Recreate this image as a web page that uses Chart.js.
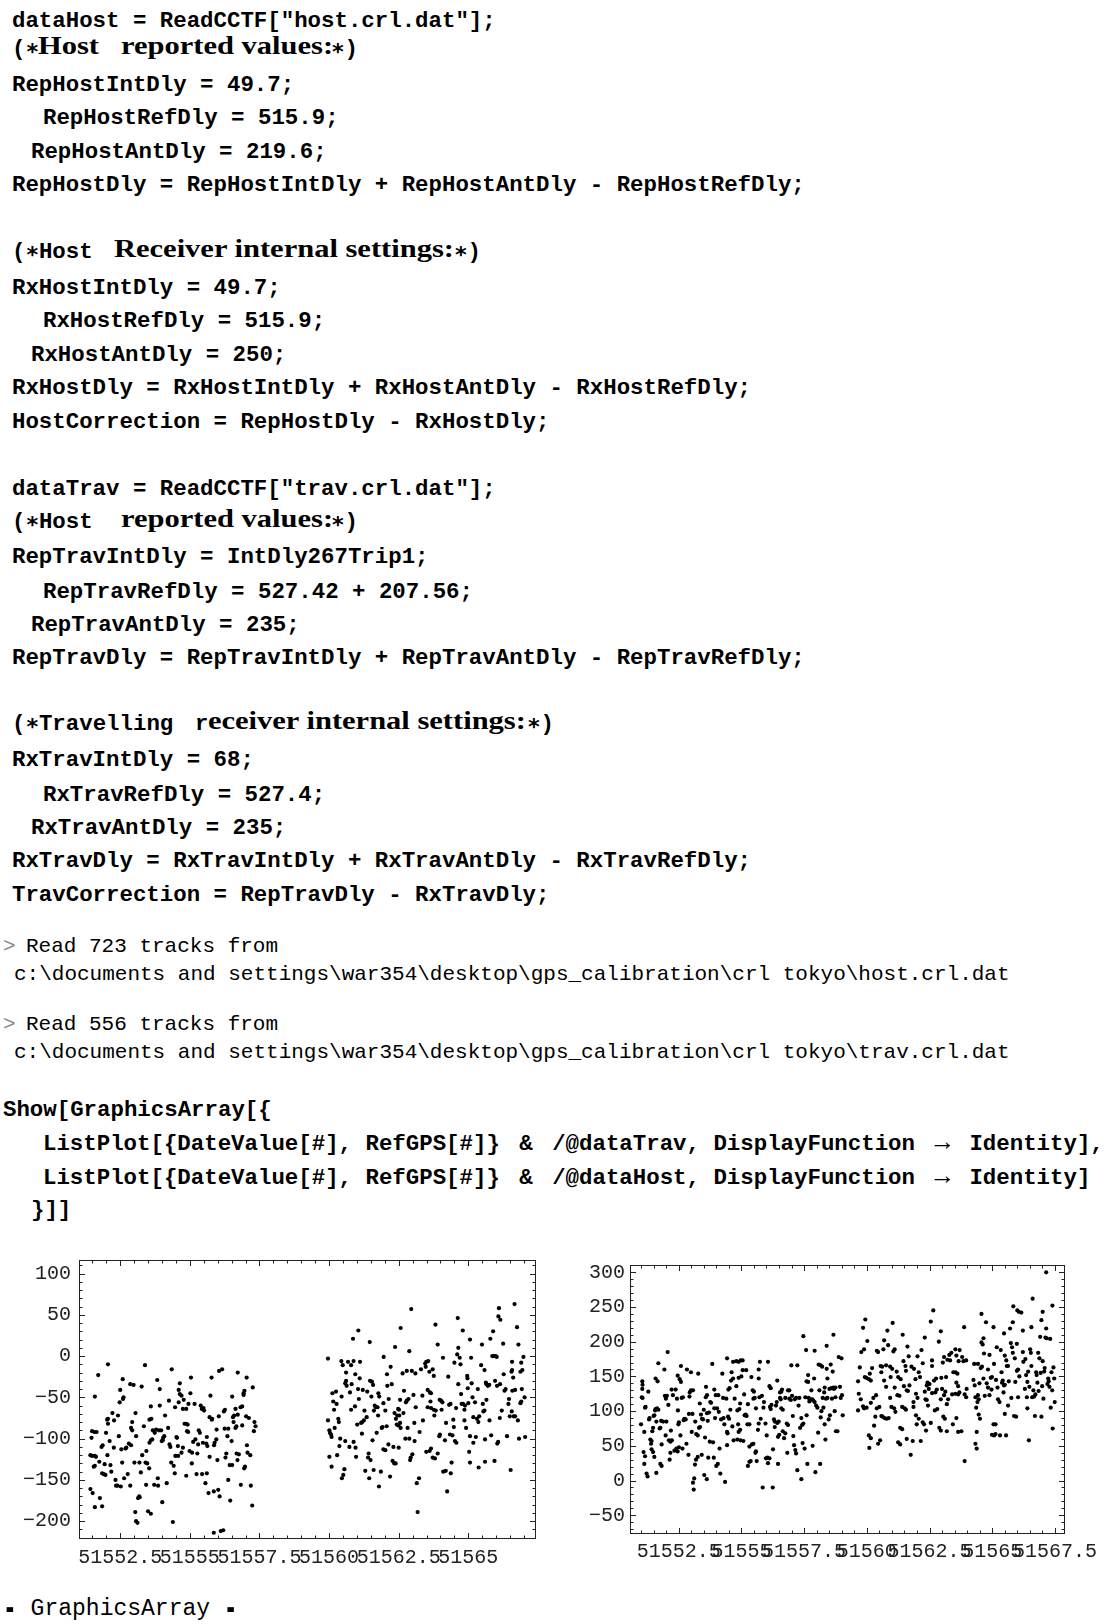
<!DOCTYPE html>
<html><head><meta charset="utf-8">
<script src="https://cdn.jsdelivr.net/npm/chart.js@4.4.1/dist/chart.umd.min.js"></script>
<style>
html,body{margin:0;padding:0;background:#fff;}
body{width:1117px;height:1624px;position:relative;overflow:hidden;}
.l{position:absolute;white-space:pre;height:30px;line-height:30px;color:#000;}
.cb{font-family:"Liberation Mono",monospace;font-weight:bold;font-size:22.4px;}
.co{font-family:"Liberation Mono",monospace;font-size:21px;}
.sf{font-family:"Liberation Serif",serif;font-weight:bold;font-size:25px;transform:scaleX(1.22);transform-origin:0 50%;}
.gr{color:#888;}
.amp{word-spacing:6px;}
.arr{word-spacing:6px;}
.arr b{font-size:26px;}
.dash{display:inline-block;font-weight:bold;transform:scaleY(1.8);}
canvas{position:absolute;}
</style></head>
<body>
<div class="l cb" style="left:12px;top:6px">dataHost = ReadCCTF["host.crl.dat"];</div>
<div class="l cb" style="left:12px;top:34px">(∗</div>
<div class="l sf" style="left:38px;top:31px">Host</div>
<div class="l sf" style="left:121px;top:31px">reported values:</div>
<div class="l cb" style="left:331px;top:34px">∗)</div>
<div class="l cb" style="left:12px;top:70px">RepHostIntDly = 49.7;</div>
<div class="l cb" style="left:43px;top:103px">RepHostRefDly = 515.9;</div>
<div class="l cb" style="left:31px;top:137px">RepHostAntDly = 219.6;</div>
<div class="l cb" style="left:12px;top:170px">RepHostDly = RepHostIntDly + RepHostAntDly - RepHostRefDly;</div>

<div class="l cb" style="left:12px;top:237px">(∗Host</div>
<div class="l sf" style="left:114px;top:234px">Receiver internal settings:</div>
<div class="l cb" style="left:454px;top:237px">∗)</div>
<div class="l cb" style="left:12px;top:273px">RxHostIntDly = 49.7;</div>
<div class="l cb" style="left:43px;top:306px">RxHostRefDly = 515.9;</div>
<div class="l cb" style="left:31px;top:340px">RxHostAntDly = 250;</div>
<div class="l cb" style="left:12px;top:373px">RxHostDly = RxHostIntDly + RxHostAntDly - RxHostRefDly;</div>
<div class="l cb" style="left:12px;top:407px">HostCorrection = RepHostDly - RxHostDly;</div>

<div class="l cb" style="left:12px;top:474px">dataTrav = ReadCCTF["trav.crl.dat"];</div>
<div class="l cb" style="left:12px;top:507px">(∗Host</div>
<div class="l sf" style="left:121px;top:504px">reported values:</div>
<div class="l cb" style="left:331px;top:507px">∗)</div>
<div class="l cb" style="left:12px;top:542px">RepTravIntDly = IntDly267Trip1;</div>
<div class="l cb" style="left:43px;top:577px">RepTravRefDly = 527.42 + 207.56;</div>
<div class="l cb" style="left:31px;top:610px">RepTravAntDly = 235;</div>
<div class="l cb" style="left:12px;top:643px">RepTravDly = RepTravIntDly + RepTravAntDly - RepTravRefDly;</div>

<div class="l cb" style="left:12px;top:709px">(∗Travelling</div>
<div class="l cb" style="left:195px;top:709px">r</div>
<div class="l sf" style="left:208px;top:706px">eceiver internal settings:</div>
<div class="l cb" style="left:527px;top:709px">∗)</div>
<div class="l cb" style="left:12px;top:745px">RxTravIntDly = 68;</div>
<div class="l cb" style="left:43px;top:780px">RxTravRefDly = 527.4;</div>
<div class="l cb" style="left:31px;top:813px">RxTravAntDly = 235;</div>
<div class="l cb" style="left:12px;top:846px">RxTravDly = RxTravIntDly + RxTravAntDly - RxTravRefDly;</div>
<div class="l cb" style="left:12px;top:880px">TravCorrection = RepTravDly - RxTravDly;</div>

<div class="l co gr" style="left:3px;top:932px">&gt;</div>
<div class="l co" style="left:26px;top:932px">Read 723 tracks from</div>
<div class="l co" style="left:14px;top:960px">c:\documents and settings\war354\desktop\gps_calibration\crl tokyo\host.crl.dat</div>
<div class="l co gr" style="left:3px;top:1010px">&gt;</div>
<div class="l co" style="left:26px;top:1010px">Read 556 tracks from</div>
<div class="l co" style="left:14px;top:1038px">c:\documents and settings\war354\desktop\gps_calibration\crl tokyo\trav.crl.dat</div>

<div class="l cb" style="left:3px;top:1095px">Show[GraphicsArray[{</div>
<div class="l cb" style="left:43px;top:1128px">ListPlot[{DateValue[#], RefGPS[#]}<span class="amp"> &amp; </span>/@dataTrav, DisplayFunction<span class="arr"> <b>→</b> </span>Identity],</div>
<div class="l cb" style="left:43px;top:1162px">ListPlot[{DateValue[#], RefGPS[#]}<span class="amp"> &amp; </span>/@dataHost, DisplayFunction<span class="arr"> <b>→</b> </span>Identity]</div>
<div class="l cb" style="left:31px;top:1195px">}]]</div>

<canvas id="trav" width="560" height="345" style="left:0px;top:1240px;width:560px;height:345px"></canvas>
<canvas id="host" width="557" height="345" style="left:560px;top:1240px;width:557px;height:345px"></canvas>

<div class="l" style="left:3px;top:1594px;font-family:'Liberation Mono',monospace;font-size:23px;"><span class="dash">-</span> GraphicsArray <span class="dash">-</span></div>

<script>
// ---- data: {DateValue, RefGPS} for dataTrav (left plot) ----
const travPoints = [
[51551.43,-161],[51551.51,-166],[51551.59,-183],[51551.77,-172],[51551.85,-182],
[51551.43,-120],[51551.49,-121],[51551.59,-121],[51551.63,-122],[51551.55,-134],[51551.59,-133],
[51551.47,-99],[51551.49,-91],[51551.57,-92],[51551.65,-92],[51551.59,-49],[51551.71,-23],[51552.06,-10],
[51551.75,-128],[51551.83,-110],[51551.87,-108],[51551.85,-142],[51551.91,-143],[51551.94,-131],[51551.97,-144],[51552.04,-120],[51551.99,-93],[51552.03,-77],[51552.06,-82],[51552.06,-76],
[51552.12,-103],[51552.15,-132],[51552.18,-140],[51552.22,-69],[51552.28,-78],[51552.27,-111],[51552.33,-150],[51552.35,-157],[51552.40,-157],[51552.42,-72],
[51552.45,-97],[51552.48,-56],[51552.50,-41],[51552.54,-113],[51552.52,-158],[51552.57,-129],[51552.59,-28],[51552.60,-52],[51552.62,-50],[51552.64,-148],
[51552.69,-112],[51552.72,-111],[51552.77,-143],[51552.81,-106],[51552.86,-34],[51552.86,-157],[51552.89,-108],[51552.89,-87],[51552.93,-90],[51552.93,-80],
[51552.98,-35],[51553.01,-129],[51553.04,-189],[51553.05,-69],[51553.07,-97],[51553.07,-200],[51553.12,-202],[51553.14,-172],[51553.18,-170],[51553.19,-129],
[51553.20,-171],[51553.24,-141],[51553.27,-37],[51553.29,-120],[51553.35,-85],[51553.39,-11],[51553.41,-129],[51553.43,-156],[51553.44,-115],[51553.47,-130],
[51553.50,-188],[51553.54,-136],[51553.55,-77],[51553.60,-61],[51553.60,-191],[51553.62,-76],[51553.55,-105],[51553.60,-102],[51553.65,-101],[51553.67,-90],
[51553.72,-156],[51553.74,-93],[51553.79,-89],[51553.83,-29],[51553.85,-148],[51553.86,-157],[51553.89,-90],[51553.92,-40],[51553.92,-60],[51553.97,-90],
[51554.01,-177],[51553.99,-103],[51554.03,-102],[51554.04,-99],[51554.08,-97],[51554.11,-72],[51554.17,-154],[51554.22,-87],[51554.25,-54],[51554.27,-107],
[51554.30,-110],[51554.33,-129],[51554.35,-16],[51554.39,-201],[51554.42,-133],[51554.46,-142],[51554.47,-62],[51554.48,-121],[51554.52,-98],[51554.54,-99],
[51554.57,-109],[51554.58,-121],[51554.60,-56],[51554.60,-41],[51554.64,-33],[51554.64,-46],[51554.70,-48],[51554.70,-117],[51554.75,-111],[51554.75,-64],
[51554.78,-53],[51554.81,-82],[51554.87,-82],[51554.87,-64],[51554.87,-145],[51554.90,-91],[51554.92,-83],[51554.94,-92],[51554.95,-58],[51554.99,-115],
[51555.02,-45],[51555.04,-26],[51555.07,-130],[51555.08,-117],[51555.12,-104],[51555.17,-58],[51555.20,-101],[51555.24,-143],[51555.27,-118],[51555.30,-107],
[51555.32,-90],[51555.36,-93],[51555.39,-60],[51555.43,-64],[51555.44,-143],[51555.47,-105],[51555.49,-63],[51555.51,-66],[51555.56,-154],[51555.59,-106],
[51555.61,-98],[51555.61,-142],[51555.63,-109],[51555.67,-166],[51555.71,-122],[51555.71,-74],[51555.74,-48],[51555.78,-26],[51555.79,-77],[51555.80,-76],
[51555.86,-164],[51555.86,-214],[51555.87,-108],[51555.89,-105],[51555.95,-101],[51555.96,-89],[51555.99,-126],[51556.02,-162],[51556.04,-73],[51556.05,-18],
[51556.07,-170],[51556.11,-212],[51556.16,-16],[51556.20,-211],[51556.22,-67],[51556.25,-88],[51556.26,-65],[51556.28,-123],[51556.31,-118],[51556.35,-97],
[51556.38,-88],[51556.38,-150],[51556.43,-132],[51556.45,-175],[51556.50,-103],[51556.52,-132],[51556.52,-49],[51556.55,-74],[51556.57,-80],[51556.59,-72],
[51556.64,-64],[51556.64,-87],[51556.67,-85],[51556.68,-118],[51556.71,-126],[51556.72,-71],[51556.72,-20],[51556.76,-119],[51556.82,-62],[51556.83,-156],
[51556.88,-61],[51556.88,-84],[51556.93,-45],[51556.93,-47],[51556.95,-136],[51556.96,-42],[51556.98,-134],[51557.02,-73],[51557.04,-26],[51557.05,-108],
[51557.07,-117],[51557.12,-75],[51557.17,-120],[51557.19,-157],[51557.24,-181],[51557.26,-38],[51557.30,-91],[51557.32,-80],[51557.36,-85],
[51559.96,-3],[51559.96,-78],[51560.01,-90],[51560.03,-93],[51560.07,-95],[51560.09,-98],[51560.01,-122],[51560.09,-134],[51560.12,-45],[51560.15,-55],
[51560.18,-65],[51560.20,-87],[51560.25,-43],[51560.27,-58],[51560.29,-120],[51560.33,-76],[51560.35,-80],[51560.37,-109],[51560.40,-100],[51560.44,-6],
[51560.45,-49],[51560.46,-148],[51560.51,-144],[51560.55,-137],[51560.49,-11],[51560.58,-103],[51560.61,-20],[51560.58,-33],[51560.61,-30],[51560.63,-36],
[51560.68,-7],[51560.73,-110],[51560.75,-44],[51560.79,-11],[51560.79,-65],[51560.81,-34],[51560.86,21],[51560.88,-6],[51560.88,-104],[51560.93,-61],
[51560.94,-22],[51560.95,-111],[51560.97,-122],[51561.01,-83],[51561.05,31],[51561.04,-40],[51561.07,-52],[51561.11,-7],[51561.10,-27],[51561.15,-81],
[51561.19,-80],[51561.25,-78],[51561.18,-94],[51561.21,-41],[51561.27,-66],[51561.30,-139],[51561.35,-74],[51561.37,-43],[51561.40,-123],[51561.44,-148],
[51561.42,-118],[51561.49,-126],[51561.46,17],[51561.47,-30],[51561.52,-49],[51561.54,-31],[51561.58,-35],[51561.56,-102],[51561.60,-138],[51561.61,-66],
[51561.64,-60],[51561.68,-62],[51561.74,-62],[51561.71,-93],[51561.76,-72],[51561.77,-45],[51561.80,-49],[51561.79,-158],[51561.86,-140],[51561.89,-87],
[51561.92,-86],[51561.95,-113],[51562.02,-114],[51561.96,-1],[51561.95,-57],[51562.02,-66],[51562.07,-85],[51562.08,-22],[51562.09,-36],[51562.13,-107],
[51562.14,-52],[51562.19,-146],[51562.21,-13],[51562.25,-34],[51562.28,-127],[51562.34,-130],[51562.39,-130],[51562.31,-110],[51562.35,-69],[51562.37,11],
[51562.40,-76],[51562.45,-72],[51562.52,-72],[51562.48,-64],[51562.51,-65],[51562.43,-83],[51562.49,-84],[51562.55,-81],[51562.50,-111],[51562.55,-53],
[51562.57,34],[51562.57,-87],[51562.64,-21],[51562.67,-69],[51562.69,-42],[51562.76,-56],[51562.79,-54],[51562.85,-52],[51562.74,-100],[51562.79,-18],
[51562.82,-87],[51562.88,-100],[51562.88,6],[51562.91,-126],[51562.93,-123],[51562.99,-119],[51562.95,57],[51562.97,-18],[51563.03,-47],[51563.06,-81],
[51563.10,-21],[51563.07,-103],[51563.11,-62],
[51563.15,-154],[51563.18,-189],[51563.23,-148],[51563.30,-16],[51563.35,-48],[51563.37,-78],[51563.25,-92],[51563.45,-9],[51563.47,-13],[51563.49,-7],
[51563.54,-41],[51563.56,-6],[51563.60,-19],[51563.62,-44],[51563.66,-45],[51563.64,-55],[51563.54,-62],[51563.66,-63],[51563.72,-16],[51563.76,-24],
[51563.76,-65],[51563.78,-72],[51563.83,-66],[51563.82,38],[51563.72,-123],[51563.80,-124],[51563.61,-115],[51563.66,-112],[51563.49,-116],[51563.90,14],
[51563.90,-118],[51563.96,-97],[51563.98,-95],[51563.97,-53],[51564.02,-54],[51564.07,-56],[51564.04,-65],[51564.09,-2],[51564.10,-140],[51564.19,-139],
[51564.16,-102],[51564.20,-81],[51564.24,-164],[51564.28,-25],[51564.31,-59],[51564.36,-58],[51564.34,-95],[51564.37,-142],[51564.40,-129],[51564.43,-96],
[51564.46,-77],[51564.48,-86],[51564.50,-8],[51564.52,-103],[51564.57,-105],[51564.56,-63],[51564.60,2],[51564.62,46],[51564.64,-34],[51564.64,10],
[51564.69,-2],[51564.72,-10],[51564.74,-46],[51564.76,-58],[51564.81,-58],[51564.80,31],[51564.86,-65],[51564.86,-78],[51564.88,-60],[51564.92,-87],
[51564.96,-24],[51564.97,-27],[51564.98,-39],[51565.00,-57],[51565.03,-116],[51565.06,-129],[51565.06,-97],[51565.06,20],[51565.10,-2],[51565.12,-33],
[51565.15,-50],[51565.18,-105],[51565.18,-74],[51565.24,-56],[51565.27,-98],[51565.31,-76],[51565.36,-80],[51565.39,-73],[51565.34,-40],[51565.37,-135],
[51565.46,-11],[51565.49,14],[51565.52,-58],[51565.54,-67],[51565.58,-66],[51565.58,-17],[51565.60,-101],[51565.63,-32],[51565.65,-34],[51565.70,-36],
[51565.65,-53],[51565.60,-128],[51565.75,-35],[51565.76,-78],[51565.79,21],[51565.82,-96],[51565.86,0],[51565.89,30],[51565.92,0],[51565.98,0],
[51566.02,-1],[51565.94,-127],[51565.96,-30],[51566.04,-106],[51566.07,-104],[51566.03,-36],[51566.08,48],[51566.10,58],[51566.13,-75],[51566.14,-34],
[51566.15,44],[51566.20,-66],[51566.25,15],[51566.27,-22],[51566.30,-42],[51566.34,-40],[51566.39,-97],[51566.44,-58],[51566.46,-52],[51566.49,-73],
[51566.52,-138],[51566.55,-19],[51566.57,-17],[51566.57,-7],[51566.56,-67],[51566.58,-42],[51566.61,-26],[51566.63,-73],[51566.68,-73],[51566.66,63],
[51566.68,-41],[51566.75,35],[51566.78,-78],[51566.80,14],[51566.82,-100],[51566.87,-57],[51566.90,-55],[51566.87,-19],[51566.90,-8],[51566.92,-40],
[51566.94,-17],[51566.98,-1],[51567.02,-50],[51567.04,-98]
];

// ---- data: {DateValue, RefGPS} for dataHost (right plot) ----
const hostPoints = [
[51551.00,81],[51551.03,120],[51551.06,119],[51551.05,143],[51551.06,138],[51551.05,132],[51551.13,70],[51551.16,105],[51551.18,106],[51551.10,41],
[51551.16,35],[51551.13,24],[51551.22,10],[51551.26,6],[51551.29,128],[51551.32,88],[51551.34,90],[51551.37,59],[51551.40,53],[51551.42,57],
[51551.42,45],[51551.48,41],[51551.53,34],[51551.45,71],[51551.50,93],[51551.56,101],[51551.58,103],[51551.61,85],[51551.48,76],[51551.53,94],
[51551.61,11],[51551.58,147],[51551.66,143],[51551.64,104],[51551.69,102],[51551.69,169],[51551.74,75],[51551.77,76],[51551.77,24],[51551.82,21],
[51551.80,86],[51551.82,52],[51551.88,85],[51551.93,160],[51551.95,122],[51551.99,118],[51552.01,85],[51551.98,65],[51552.03,122],[51552.06,185],
[51552.09,109],[51552.11,58],[51552.17,56],[51552.23,58],[51552.14,30],[51552.17,40],[51552.19,72],[51552.22,131],[51552.27,123],[51552.33,43],
[51552.38,131],[51552.41,46],[51552.46,42],[51552.51,48],[51552.43,118],[51552.46,151],[51552.47,101],[51552.49,81],[51552.51,84],[51552.54,146],
[51552.59,142],[51552.57,65],[51552.59,165],[51552.62,119],[51552.65,46],[51552.67,120],[51552.70,87],[51552.73,89],[51552.78,88],[51552.81,53],
[51552.83,160],[51552.89,37],[51552.91,96],[51552.93,121],[51552.94,127],[51552.99,130],[51553.07,130],[51552.99,156],[51553.02,70],[51553.05,96],
[51553.07,-3],[51553.12,3],[51553.10,-13],[51553.15,23],[51553.19,30],[51553.26,34],[51553.16,85],[51553.20,67],[51553.26,65],[51553.28,154],
[51553.31,76],[51553.34,111],[51553.35,77],[51553.39,95],[51553.43,89],[51553.42,37],[51553.47,88],[51553.50,102],[51553.52,8],[51553.55,62],
[51553.58,120],[51553.59,135],[51553.63,123],[51553.62,2],[51553.63,97],[51553.66,86],[51553.68,33],[51553.71,98],[51553.74,56],[51553.76,113],
[51553.79,112],[51553.84,168],[51553.87,55],[51553.90,33],[51553.92,131],[51553.92,104],[51553.95,90],[51553.98,123],[51554.00,21],[51554.03,104],
[51554.06,24],[51554.08,123],[51554.10,99],[51554.13,46],[51554.16,10],[51554.19,88],[51554.24,154],[51554.27,119],[51554.29,90],[51554.32,81],
[51554.35,-2],[51554.40,118],[51554.43,70],[51554.43,176],[51554.43,51],[51554.45,68],[51554.47,92],[51554.48,131],[51554.51,89],[51554.53,133],
[51554.56,102],[51554.59,144],[51554.61,156],[51554.64,78],[51554.67,147],[51554.67,171],[51554.69,58],
[51554.80,172],[51554.89,171],[51554.97,173],[51555.05,173],[51554.73,118],[51554.84,101],[51554.92,103],[51554.95,111],[51554.87,81],[51554.80,136],
[51554.89,70],[51554.95,73],[51554.89,148],[51555.00,150],[51554.84,59],[51554.97,58],[51555.08,57],[51555.05,159],[51555.19,159],[51555.11,124],
[51555.13,94],[51555.17,95],[51555.21,93],[51555.24,81],[51555.32,81],[51555.26,21],[51555.32,27],[51555.37,28],[51555.26,110],[51555.32,49],
[51555.42,52],[51555.48,53],[51555.40,149],[51555.45,130],[51555.50,128],[51555.48,118],[51555.53,119],[51555.56,40],[51555.58,42],[51555.58,104],
[51555.61,28],[51555.66,73],[51555.69,160],[51555.74,171],[51555.69,147],[51555.69,82],[51555.72,120],[51555.77,89],[51555.82,122],[51555.85,-10],
[51555.88,105],[51555.90,113],[51555.96,82],[51555.98,32],[51556.04,33],[51556.12,32],[51556.01,65],[51556.06,171],[51556.06,25],[51556.12,136],
[51556.17,133],[51556.14,106],[51556.17,103],[51556.20,109],[51556.25,-10],[51556.26,45],[51556.30,88],[51556.33,85],[51556.33,77],[51556.38,108],
[51556.41,113],[51556.43,144],[51556.43,83],[51556.49,85],[51556.46,63],[51556.51,66],[51556.46,24],[51556.54,127],[51556.59,128],[51556.54,119],
[51556.57,117],[51556.59,104],[51556.65,102],[51556.62,131],[51556.65,71],[51556.70,61],[51556.75,68],[51556.75,119],[51556.81,82],[51556.86,80],
[51556.83,40],[51556.86,130],[51556.91,118],[51556.97,116],[51556.91,130],[51556.99,166],[51557.23,166],[51557.02,122],[51557.05,93],[51557.07,64],
[51557.10,51],[51557.15,44],[51557.18,39],[51557.13,117],[51557.18,119],[51557.23,15],[51557.28,108],[51557.31,119],[51557.34,76],[51557.39,90],
[51557.39,2],[51557.42,80],[51557.44,54],[51557.47,208],[51557.47,82],[51557.52,46],[51557.55,120],[51557.58,188],[51557.60,143],[51557.66,142],
[51557.60,94],[51557.63,24],[51557.66,152],[51557.68,119],[51557.76,117],[51557.71,114],[51557.79,130],[51557.82,117],[51557.84,50],[51557.87,115],
[51557.90,147],[51557.92,187],[51557.92,113],[51557.95,12],[51557.98,108],[51558.03,105],[51558.06,69],[51558.08,167],[51558.16,166],[51558.11,130],
[51558.14,24],[51558.16,91],[51558.19,100],[51558.22,164],[51558.24,119],[51558.27,105],[51558.30,127],[51558.32,81],[51558.32,134],[51558.35,59],
[51558.37,118],[51558.43,119],[51558.40,161],[51558.40,194],[51558.43,147],[51558.48,88],[51558.51,132],[51558.53,94],[51558.56,167],[51558.59,133],
[51558.61,118],[51558.64,157],[51558.67,134],[51558.67,210],[51558.69,132],[51558.75,134],[51558.72,100],[51558.75,120],[51558.77,71],[51558.83,71],
[51558.88,178],[51558.93,135],[51558.96,119],[51558.99,176],[51559.01,123],[51559.04,94],
[51559.94,232],[51559.85,220],[51559.65,143],[51559.72,163],[51559.78,185],[51559.89,189],[51560.02,201],[51559.68,125],[51559.76,117],[51559.65,101],
[51559.85,107],[51559.89,104],[51559.99,105],[51559.92,149],[51559.98,148],[51560.08,146],[51560.16,144],[51560.12,154],[51560.16,112],[51560.21,162],
[51560.26,119],[51560.29,79],[51560.34,92],[51560.37,123],[51560.40,187],[51560.45,185],[51560.40,104],[51560.50,106],[51560.08,65],[51560.16,61],
[51560.10,47],[51560.45,53],[51560.53,58],[51560.55,165],[51560.61,164],[51560.58,156],[51560.66,189],[51560.69,202],[51560.58,93],[51560.63,92],
[51560.71,90],[51560.69,144],[51560.77,135],[51560.77,166],[51560.82,216],[51560.85,195],[51560.79,89],[51560.87,90],[51560.93,164],[51561.01,161],
[51560.93,119],[51560.95,149],[51560.98,106],[51561.09,104],[51561.03,227],[51561.06,186],[51561.11,189],[51561.11,134],[51561.14,99],[51561.19,157],
[51561.22,123],[51561.30,122],[51561.25,149],[51561.25,55],[51561.33,52],[51561.33,76],[51561.41,74],[51561.35,146],[51561.41,106],[51561.43,210],
[51561.46,172],[51561.48,136],[51561.51,104],[51561.56,102],[51561.54,165],[51561.56,158],[51561.59,130],[51561.64,129],[51561.62,193],[51561.59,60],
[51561.67,179],[51561.70,137],[51561.75,37],[51561.78,164],[51561.83,57],[51561.86,113],[51561.86,106],[51561.88,161],[51561.94,146],[51561.96,125],
[51561.96,94],[51561.99,81],[51562.02,179],[51562.02,119],[51562.07,156],[51562.07,89],[51562.12,149],[51562.18,188],[51562.15,57],[51562.23,84],
[51562.23,169],[51562.28,81],[51562.31,206],[51562.31,128],[51562.34,117],[51562.39,116],[51562.36,72],[51562.39,137],[51562.42,141],[51562.47,132],
[51562.44,108],[51562.50,139],[51562.55,229],[51562.55,83],[51562.60,173],[51562.60,165],[51562.60,126],[51562.65,245],[51562.68,144],[51562.71,101],
[51562.73,127],[51562.76,147],[51562.79,131],[51562.81,103],[51562.87,200],[51562.89,76],[51562.95,72],[51562.95,215],[51562.95,117],[51562.97,148],
[51563.00,132],[51563.03,170],[51563.05,92],[51563.08,123],[51563.13,128],[51563.08,178],[51563.11,89],[51563.16,149],[51563.19,71],[51563.19,110],
[51563.21,174],[51563.24,117],[51563.29,181],[51563.32,173],[51563.37,184],[51563.40,124],[51563.43,81],[51563.45,156],
[51563.53,189],[51563.70,188],[51563.57,180],[51563.66,172],[51563.53,156],[51563.61,154],[51563.57,141],[51563.64,136],[51563.53,125],[51563.64,124],
[51563.69,127],[51563.80,178],[51563.85,172],[51563.96,173],[51563.88,221],[51563.90,124],[51563.96,120],[51563.98,132],[51563.57,90],[51563.64,70],
[51563.77,71],[51563.90,28],[51564.28,168],[51564.25,145],[51564.33,120],[51564.30,137],[51564.36,105],[51564.38,70],[51564.41,113],[51564.43,123],
[51564.46,117],[51564.46,95],[51564.51,89],[51564.33,53],[51564.38,46],[51564.49,140],[51564.43,168],[51564.54,162],[51564.59,164],[51564.57,240],
[51564.57,199],[51564.62,196],[51564.65,205],[51564.67,183],[51564.65,147],[51564.70,122],[51564.75,228],[51564.78,140],[51564.83,134],[51564.83,160],
[51564.89,181],[51564.89,123],[51564.94,148],[51564.99,149],[51564.97,131],[51564.99,66],[51565.07,65],[51565.13,67],[51565.05,221],[51565.05,81],
[51565.13,81],[51565.07,168],[51565.15,145],[51565.18,192],[51565.21,134],[51565.23,117],[51565.29,113],[51565.31,65],[51565.34,188],[51565.37,156],
[51565.39,141],[51565.42,144],[51565.47,137],[51565.50,138],[51565.45,127],[51565.47,212],[51565.50,180],[51565.50,96],[51565.55,65],[51565.56,173],
[51565.58,165],[51565.63,165],[51565.63,108],[51565.66,143],[51565.71,219],[51565.74,198],[51565.76,119],[51565.79,192],[51565.82,228],[51565.84,251],
[51565.82,184],[51565.87,93],[51565.95,92],[51565.90,176],[51565.92,142],[51565.98,158],[51566.03,160],[51565.98,197],[51566.00,245],[51566.06,243],
[51566.03,120],[51566.08,150],[51566.16,242],[51566.22,216],[51566.22,185],[51566.24,171],[51566.30,132],[51566.35,152],[51566.32,175],[51566.38,120],
[51566.40,142],[51566.40,104],[51566.43,157],[51566.46,58],[51566.48,135],[51566.51,189],[51566.54,184],[51566.56,221],[51566.56,165],[51566.59,120],
[51566.61,262],[51566.64,130],[51566.67,121],[51566.70,93],[51566.72,124],[51566.75,156],[51566.77,152],[51566.80,141],[51566.83,184],[51566.85,129],
[51566.88,176],[51566.91,207],[51566.93,155],[51566.96,231],[51566.96,92],[51566.99,136],[51567.01,243],[51567.01,172],[51567.04,118],[51567.07,157],
[51567.09,162],[51567.12,206],[51567.15,300],[51567.15,219],[51567.17,205],[51567.20,139],[51567.23,147],[51567.25,143],[51567.28,135],[51567.31,204],
[51567.33,105],[51567.36,156],[51567.39,130],[51567.40,252],[51567.41,75],[51567.44,163],[51567.47,147],[51567.49,113]
];

// ---- axes ----
const travXTicks = [51552.5, 51555, 51557.5, 51560, 51562.5, 51565];
const travYTicks = [-200, -150, -100, -50, 0, 50, 100];
const travXRange = [51551.02, 51567.43];
const travYRange = [-221.6, 116.4];

const hostXTicks = [51552.5, 51555, 51557.5, 51560, 51562.5, 51565, 51567.5];
const hostYTicks = [-50, 0, 50, 100, 150, 200, 250, 300];
const hostXRange = [51550.56, 51567.9];
const hostYRange = [-77, 310.5];

const fmt = v => String(v).replace('-', '\u2212');

const framePlugin = {
  id: 'mmaFrame',
  afterDatasetsDraw(chart) {
    const {ctx, chartArea: a, scales: {x, y}} = chart;
    ctx.save();
    ctx.strokeStyle = '#222';
    ctx.lineWidth = 1;
    ctx.strokeRect(Math.round(a.left) + 0.5, Math.round(a.top) + 0.5,
                   Math.round(a.right - a.left) - 1, Math.round(a.bottom - a.top) - 1);
    ctx.beginPath();
    for (let k = Math.ceil(x.min / 0.5); k * 0.5 <= x.max; k++) {
      const px = Math.round(x.getPixelForValue(k * 0.5)) + 0.5;
      const len = (k % 5 === 0) ? 6 : 3.5;
      ctx.moveTo(px, a.bottom); ctx.lineTo(px, a.bottom - len);
      ctx.moveTo(px, a.top); ctx.lineTo(px, a.top + len);
    }
    for (let k = Math.ceil(y.min / 10); k * 10 <= y.max; k++) {
      const py = Math.round(y.getPixelForValue(k * 10)) + 0.5;
      const len = (k % 5 === 0) ? 6 : 3.5;
      ctx.moveTo(a.left, py); ctx.lineTo(a.left + len, py);
      ctx.moveTo(a.right, py); ctx.lineTo(a.right - len, py);
    }
    ctx.stroke();
    ctx.restore();
  }
};

function makeChart(id, pts, xr, yr, xt, yt, lay) {
  return new Chart(document.getElementById(id), {
    type: 'scatter',
    data: { datasets: [{
      data: pts.map(p => ({x: p[0], y: p[1]})),
      pointRadius: 2.1, pointHoverRadius: 2.1, pointBorderWidth: 0, borderWidth: 0,
      pointBackgroundColor: '#000', backgroundColor: '#000'
    }]},
    options: {
      responsive: false, animation: false, devicePixelRatio: 1,
      events: [],
      layout: { padding: { left: 0, top: lay.top, right: lay.right, bottom: 0 } },
      plugins: { legend: { display: false }, tooltip: { enabled: false } },
      scales: {
        x: {
          type: 'linear', min: xr[0], max: xr[1],
          grid: { display: false, drawTicks: false }, border: { display: false },
          afterBuildTicks: s => { s.ticks = xt.map(v => ({ value: v })); },
          afterFit: s => { s.height = lay.xh; },
          ticks: { autoSkip: false, maxRotation: 0, minRotation: 0, padding: lay.xpad,
                   color: '#222', font: { family: 'Liberation Mono', size: 20 },
                   callback: v => fmt(v) }
        },
        y: {
          type: 'linear', min: yr[0], max: yr[1],
          grid: { display: false, drawTicks: false }, border: { display: false },
          afterBuildTicks: s => { s.ticks = yt.map(v => ({ value: v })); },
          afterFit: s => { s.width = lay.yw; },
          ticks: { autoSkip: false, padding: lay.ypad,
                   color: '#222', font: { family: 'Liberation Mono', size: 20 },
                   callback: v => fmt(v) }
        }
      }
    },
    plugins: [framePlugin]
  });
}

makeChart('trav', travPoints, travXRange, travYRange, travXTicks, travYTicks,
          { top: 17, right: 24, xh: 46, yw: 79, xpad: 7, ypad: 8 });
makeChart('host', hostPoints, hostXRange, hostYRange, hostXTicks, hostYTicks,
          { top: 25, right: 52, xh: 51, yw: 70, xpad: 6, ypad: 5 });
</script>
</body></html>
